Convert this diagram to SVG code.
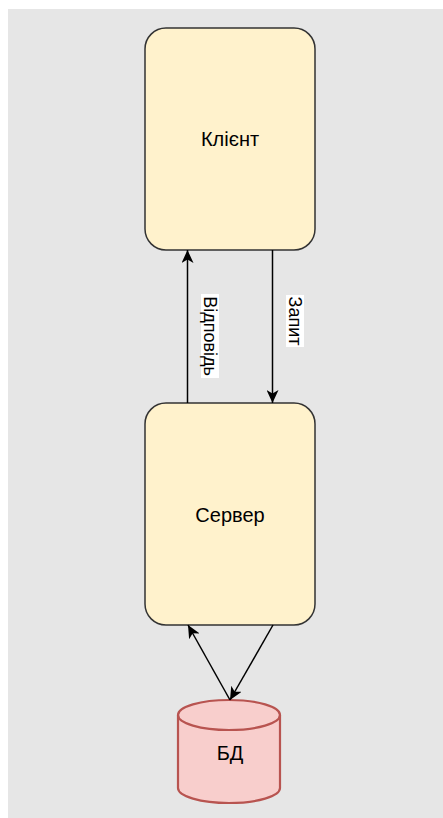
<svg xmlns="http://www.w3.org/2000/svg" width="443" height="818" viewBox="0 0 443 818">
<defs>
<marker id="arr" markerUnits="userSpaceOnUse" markerWidth="14" markerHeight="12" refX="13" refY="6" orient="auto">
<path d="M0,0 L13,6 L0,12 L3.5,6 Z" fill="#000"/>
</marker>
<style>
.box{fill:#fff2cc;stroke:#333;stroke-width:1.5}
.t{font-family:"Liberation Sans",Arial,sans-serif;font-size:20px;fill:#000;text-anchor:middle;dominant-baseline:central}
.l{font-family:"Liberation Sans",Arial,sans-serif;font-size:18px;fill:#000;text-anchor:middle;dominant-baseline:central}
.e{stroke:#000;stroke-width:1.5;fill:none;marker-end:url(#arr)}
</style>
</defs>
<rect x="8" y="9" width="435" height="809" fill="#e6e6e6"/>
<g id="client">
<rect class="box" x="145" y="28" width="170" height="222" rx="21"/>
<text class="t" x="230" y="139">Клієнт</text>
</g>
<g id="server">
<rect class="box" x="145" y="403" width="170" height="222" rx="21"/>
<text class="t" x="230" y="515">Сервер</text>
</g>
<g id="db">
<path d="M178,715 a51,15 0 0 1 102,0 v73 a51,15 0 0 1 -102,0 Z" fill="#f8cecc" stroke="#b85450" stroke-width="2.2"/>
<path d="M178,715 a51,15 0 0 0 102,0" fill="none" stroke="#b85450" stroke-width="2.2"/>
<text class="t" x="230" y="753">БД</text>
</g>
<g id="connectors">
<path class="e" d="M187.5,403 L187.5,250"/>
<path class="e" d="M272.5,250 L272.5,403"/>
<path class="e" d="M230,700 L188,625"/>
<path class="e" d="M273,625 L230,700"/>
<rect x="201" y="294" width="18" height="84" fill="#fff"/>
<text class="l" transform="translate(210,336) rotate(90)">Відповідь</text>
<rect x="286" y="295" width="18" height="52" fill="#fff"/>
<text class="l" transform="translate(295,321) rotate(90)">Запит</text>
</g>
</svg>
